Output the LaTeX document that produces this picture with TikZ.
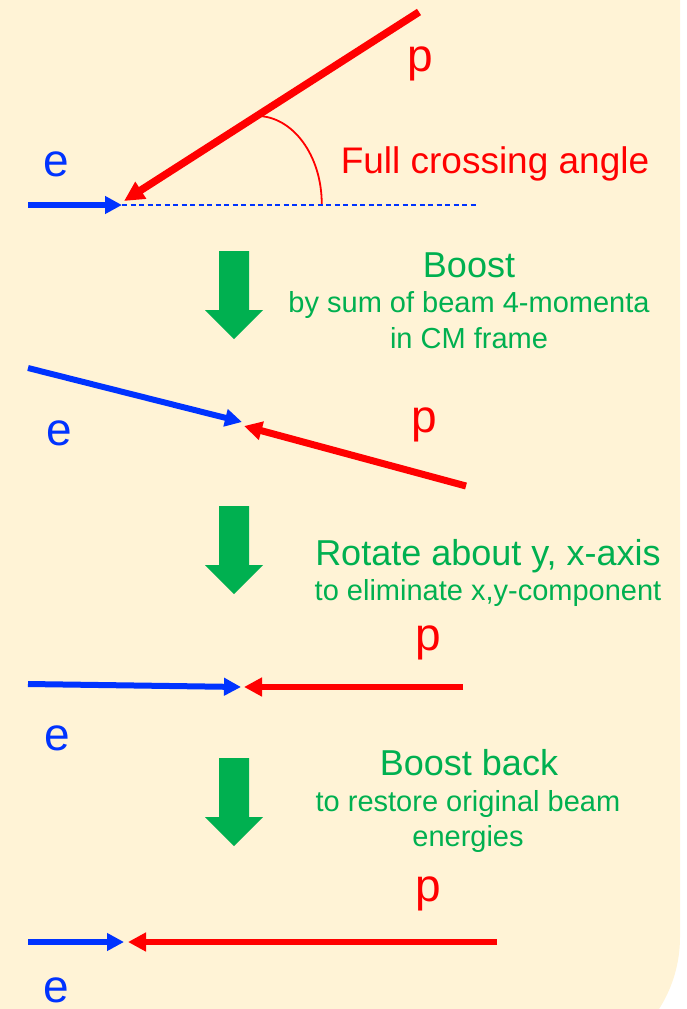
\documentclass[tikz,border=0pt]{standalone}
\usepackage{fontspec}
\setmainfont{Liberation Sans}
\usetikzlibrary{arrows.meta,calc}
\definecolor{bgcream}{RGB}{255,243,214}
\definecolor{beamblue}{RGB}{0,51,255}
\definecolor{beamred}{RGB}{255,0,0}
\definecolor{stepgreen}{RGB}{0,176,80}

\tikzset{
  ebeam/.style={draw=beamblue, line width=6pt, -{Triangle[length=17pt,width=17pt]}},
  pbeam/.style={draw=beamred, line width=6.5pt, -{Triangle[length=18pt,width=18pt]}},
  lbl/.style={inner sep=0pt, anchor=base, font=\fontsize{46}{50}\selectfont},
  elabel/.style={lbl, text=beamblue},
  plabel/.style={lbl, text=beamred},
  headtext/.style={inner sep=0pt, anchor=base, text=stepgreen, font=\fontsize{36}{40}\selectfont},
  subtext/.style={inner sep=0pt, anchor=base, text=stepgreen, font=\fontsize{29}{33}\selectfont},
  bigdownarrow/.pic={
    \fill[stepgreen] (-15,0) -- (15,0) -- (15,-59) -- (29,-59) -- (0,-88)
      -- (-29,-59) -- (-15,-59) -- cycle;
  }
}

\begin{document}
\begin{tikzpicture}[x=1pt,y=1pt]
\clip (0,0) rectangle (687,-1009);
% slide panel with a rounded lower-right corner
\fill[bgcream] (-10,10) -- (680,10) -- (680,-937)
  arc[start angle=0, end angle=-90, radius=134] -- (-10,-1071) -- cycle;

% ---------- crossing beams ----------
\coordinate (e1s) at (28,-205);
\coordinate (e1t) at (122,-205);
\coordinate (d1e) at (478,-205);
\coordinate (p1s) at (419,-12);
\coordinate (p1t) at (124,-201);
\draw[ebeam] (e1s) -- (e1t);
\draw[beamblue, line width=1.2pt, dash pattern=on 5pt off 3.5pt] (e1t) -- (d1e);
\draw[pbeam, line width=7.5pt, -{Triangle[length=20pt,width=19pt]}] (p1s) -- (p1t);
\coordinate (arcstart) at ($(p1s)!0.55!(p1t)$);
\draw[beamred, line width=1.8pt] (arcstart) arc[start angle=90, end angle=0, x radius=65, y radius=88];
\node[elabel] (e1) at (56,-176) {e};
\node[plabel] (p1) at (420,-71) {p};
\node[inner sep=0pt, anchor=base, text=beamred, font=\fontsize{37}{40}\selectfont] (fca) at (495,-173) {Full crossing angle};

% ---------- step 1 ----------
\pic at (234,-251) {bigdownarrow};
\node[headtext] (s1h) at (469,-277) {Boost};
\node[subtext] (s1a) at (469,-312) {by sum of beam 4-momenta};
\node[subtext] (s1b) at (469,-348) {in CM frame};

% ---------- boosted beams ----------
\coordinate (e2s) at (28,-368);
\coordinate (e2t) at (242,-422);
\coordinate (p2s) at (466,-486);
\coordinate (p2t) at (244,-426);
\draw[ebeam] (e2s) -- (e2t);
\draw[pbeam, line width=7pt] (p2s) -- (p2t);
\node[elabel] (e2) at (59,-445) {e};
\node[plabel] (p2) at (424,-432) {p};

% ---------- step 2 ----------
\pic at (234,-506) {bigdownarrow};
\node[headtext] (s2h) at (488,-565) {Rotate about y, x-axis};
\node[subtext] (s2a) at (488,-600) {to eliminate x,y-component};

% ---------- rotated beams ----------
\coordinate (e3s) at (28,-684);
\coordinate (e3t) at (241,-687);
\coordinate (p3s) at (463,-687);
\coordinate (p3t) at (244,-687);
\draw[ebeam] (e3s) -- (e3t);
\draw[pbeam] (p3s) -- (p3t);
\node[elabel] (e3) at (57,-750) {e};
\node[plabel] (p3) at (428,-650) {p};

% ---------- step 3 ----------
\pic at (234,-758) {bigdownarrow};
\node[headtext] (s3h) at (469,-775) {Boost back};
\node[subtext] (s3a) at (468,-811) {to restore original beam};
\node[subtext] (s3b) at (468,-846) {energies};

% ---------- head-on beams ----------
\coordinate (e4s) at (28,-942);
\coordinate (e4t) at (124,-942);
\coordinate (p4s) at (497,-942);
\coordinate (p4t) at (128,-942);
\draw[ebeam] (e4s) -- (e4t);
\draw[pbeam] (p4s) -- (p4t);
\node[elabel] (e4) at (56,-1002) {e};
\node[plabel] (p4) at (428,-901) {p};
\end{tikzpicture}
\end{document}
